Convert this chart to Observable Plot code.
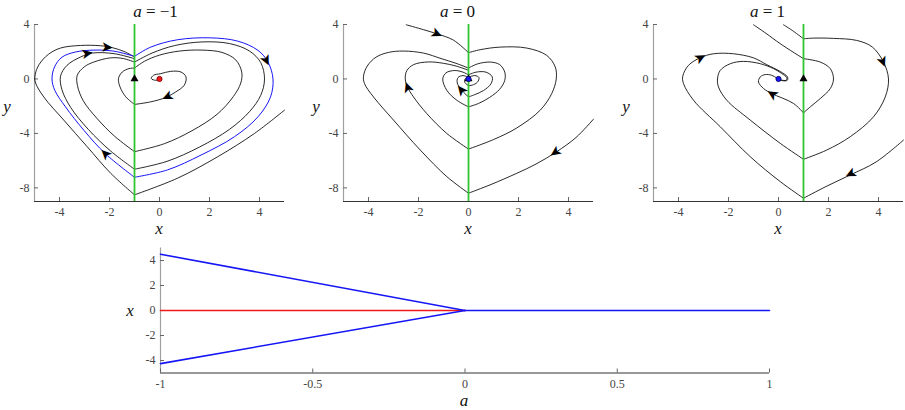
<!DOCTYPE html>
<html><head><meta charset="utf-8">
<script src="https://cdn.jsdelivr.net/npm/d3@7"></script>
<script src="https://cdn.jsdelivr.net/npm/@observablehq/plot@0.6"></script>
<style>
body{margin:0;background:#fff;}
#root{position:relative;width:905px;height:410px;overflow:hidden;}
.pnl{position:absolute;}
.lbl{position:absolute;font-family:"Liberation Serif",serif;font-size:17px;color:#111;transform:translate(-50%,-50%);white-space:nowrap;line-height:1;}
.lbl i{font-style:italic;}
</style></head><body><div id="root"></div>
<script>
// ---------- data ----------
const aValues = [-1, 0, 1];
const titles = ["−1", "0", "1"];
const xTicksTop = [-4, -2, 0, 2, 4];
const yTicksTop = [-8, -4, 0, 4];
const xDomTop = [-5, 5];
const yDomTop = [-9, 4];

// panel a = -1 : stable limit cycle (blue) and black trajectories (lobes split at x=a)
const p1Blue = [
  [[-1,1.66],[-0.35,2.34],[0.72,2.88],[2.03,3.02],[3.13,2.78],[3.94,2.10],[4.34,1.24],[4.54,0],[4.44,-1.32],[3.94,-2.78],[3.0,-4.24],[1.66,-5.59],[0.32,-6.68],[-1,-7.22]],
  [[-1,-7.22],[-2.16,-5.5],[-3.03,-3.76],[-3.76,-2.05],[-4.19,-0.83],[-4.3,0],[-4.2,0.88],[-3.9,1.6],[-3.36,1.98],[-2.62,2.12],[-1.82,2.04],[-1,1.66]]
];
const p1Black = [
  [[5.0,-2.29],[3.8,-4.0],[2.33,-5.71],[0.72,-7.29],[-1,-8.51]],
  [[-1,-8.51],[-1.95,-6.93],[-2.89,-4.98],[-3.83,-3.02],[-4.63,-1.32],[-4.97,-0.22],[-4.97,0.35],[-4.82,1.05],[-4.45,1.8],[-3.96,2.27],[-3.16,2.46],[-2.36,2.44],[-1.89,2.3],[-1.42,2.02],[-1,1.62]],
  [[0.05,0],[-0.15,-0.1],[-0.33,0.03],[-0.24,0.27],[0.05,0.39],[0.45,0.56],[0.86,0.51],[1.06,0.15],[0.99,-0.46],[0.65,-0.95],[0.25,-1.36],[-0.35,-1.68],[-1,-1.87]],
  [[-1,-1.87],[-1.35,-1.31],[-1.58,-0.58],[-1.64,0.03],[-1.49,0.51],[-1.22,0.76],[-1,0.8]],
  [[-1,0.8],[-0.6,1.3],[0,1.75],[0.8,2.05],[1.7,2.12],[2.5,1.95],[3.05,1.4],[3.29,0.5],[3.25,-0.3],[2.95,-1.3],[2.3,-2.6],[1.3,-3.8],[0.2,-4.75],[-1,-5.34]],
  [[-1,-5.34],[-1.8,-4.2],[-2.5,-2.9],[-3.05,-1.6],[-3.28,-0.5],[-3.29,0.27],[-3.0,0.9],[-2.63,1.24],[-1.96,1.55],[-1.45,1.5],[-1,1.24]],
  [[-1,1.24],[-0.3,1.9],[0.6,2.45],[1.7,2.72],[2.8,2.6],[3.6,2.05],[4.05,1.2],[4.2,0],[4.05,-1.2],[3.6,-2.4],[2.8,-3.7],[1.6,-5.0],[0.3,-6.05],[-1,-6.63]],
  [[-1,-6.63],[-1.95,-5.3],[-2.85,-3.7],[-3.55,-2.1],[-3.9,-0.8],[-3.96,0.2],[-3.7,1.0],[-3.16,1.61],[-2.69,1.9],[-1.82,1.86],[-1,1.49]]
];
const p1Arrows = [
  {x:-2.1,y:2.33,r:4},{x:-2.9,y:1.88,r:-10},{x:4.27,y:1.37,r:64},{x:-2.16,y:-5.5,r:-135},{x:0.32,y:-1.3,r:155}
];

// panel a = 0
const p2Black = [
  [[-2.49,3.98],[-1.8,3.62],[-1.27,3.32],[-0.6,2.85],[0,1.93]],
  [[0,1.93],[0.47,2.15],[1.27,2.34],[2.33,2.27],[3.13,1.73],[3.47,0.88],[3.51,0],[3.33,-1.07],[2.87,-2.29],[1.93,-3.6],[1.0,-4.45],[0,-5.15]],
  [[0,-5.15],[-0.87,-4.0],[-1.67,-2.54],[-2.2,-1.32],[-2.44,-0.59],[-2.53,0],[-2.47,0.6],[-2.2,1.05],[-1.6,1.25],[-1.0,1.15],[-0.5,0.95],[0,0.64]],
  [[5.0,-2.95],[4.3,-4.3],[3.53,-5.34],[2.7,-6.25],[1.93,-6.93],[0.9,-7.75],[0,-8.39]],
  [[0,-8.39],[-0.87,-7.17],[-1.93,-5.22],[-3.0,-3.02],[-3.8,-1.32],[-4.16,-0.34],[-4.2,0.2],[-4.05,0.95],[-3.7,1.6],[-3.2,1.95],[-2.6,2.05],[-1.8,1.9],[-1.1,1.5],[-0.5,1.15],[0,0.8]],
  [[0,0.8],[0.35,1.1],[0.87,1.24],[1.25,1.05],[1.45,0.5],[1.45,-0.1],[1.25,-0.75],[0.85,-1.35],[0.4,-1.8],[0,-2.05]],
  [[0,-2.05],[-0.47,-1.56],[-0.87,-0.83],[-1.03,0],[-0.9,0.45],[-0.55,0.62],[-0.22,0.5],[0,0.3]],
  [[0,0.3],[0.3,0.5],[0.7,0.5],[0.95,0.15],[0.9,-0.35],[0.6,-0.85],[0.25,-1.15],[0,-1.32]],
  [[0,-1.32],[-0.27,-0.83],[-0.45,-0.3],[-0.42,0.1],[-0.22,0.25],[0,0.12]],
  [[0,0.12],[0.25,0.25],[0.42,0.1],[0.35,-0.25],[0.15,-0.45],[0,-0.5]],
  [[0,-0.5],[-0.15,-0.25],[-0.13,0.02],[0,0]]
];
const p2Arrows = [
  {x:-1.27,y:3.32,r:24},{x:-2.44,y:-0.63,r:-110},{x:-0.29,y:-0.83,r:-129},{x:3.47,y:-5.39,r:145}
];

// panel a = 1
const p3Black = [
  [[-1,3.98],[-0.5,3.35],[0.07,2.59],[1,1.49]],
  [[1,1.49],[1.67,1.24],[2.07,0.76],[2.2,0],[2.07,-0.71],[1.67,-1.44],[1.27,-2.05],[1,-2.49]],
  [[1,-2.49],[0.6,-1.8],[-0.27,-1.07],[-0.6,-0.7],[-0.8,-0.22],[-0.73,0.15],[-0.53,0.32],[-0.27,0.27],[-0.07,0.07],[0,0]],
  [[0.2,3.98],[0.6,3.5],[1,2.95]],
  [[1,2.95],[1.4,3.0],[2.2,2.98],[3.13,2.83],[3.75,2.35],[4.2,1.24],[4.4,0],[4.27,-1.32],[3.8,-2.78],[2.87,-4.24],[1.93,-5.22],[1,-5.9]],
  [[1,-5.9],[0.07,-4.73],[-1.13,-3.02],[-2.07,-1.56],[-2.4,-0.59],[-2.44,0],[-2.33,0.63],[-1.93,1.12],[-1.4,1.29],[-0.73,1.12],[-0.2,0.76],[0.13,0.4],[0.33,0.1],[0.3,-0.1],[0.12,-0.08],[0,0]],
  [[5.0,-4.49],[3.9,-6.1],[2.87,-7.05],[1.9,-7.9],[1,-8.76]],
  [[1,-8.76],[0.07,-7.54],[-1.13,-5.71],[-2.33,-3.51],[-3.4,-1.56],[-3.8,-0.34],[-3.83,0.2],[-3.6,1.0],[-3.13,1.56],[-2.6,1.85],[-1.8,1.85],[-1.0,1.55],[-0.47,1.05],[0.07,0.55],[0.36,0.15],[0.35,-0.1],[0.15,-0.12],[0,0]]
];
const p3Arrows = [
  {x:-3.13,y:1.56,r:-28},{x:4.17,y:1.29,r:68},{x:-0.25,y:-1.12,r:-148},{x:2.89,y:-6.98,r:153}
];

// equilibria
const focusPt = [{x:0, y:0}];

// bifurcation diagram
const bifTicksX = [-1, -0.5, 0, 0.5, 1];
const bifTicksY = [-4, -2, 0, 2, 4];
const bifUpperA = [-1, 0], bifUpperX = [4.5, 0];
const bifLowerA = [-1, 0], bifLowerX = [-4.25, 0];
const bifUnstA = [-1, 0], bifUnstX = [0, 0];
const bifStabA = [0, 1], bifStabX = [0, 0];

// ---------- drawing ----------
const GREEN = "#2ec52e", BLUE = "#1515f5", RED = "#f01818";
const TICKFONT = "'Liberation Serif', 'Times New Roman', serif";
const root = document.getElementById("root");
const fmt = d => String(d);

function rows(segs) {
  const out = [];
  segs.forEach((s, i) => s.forEach(([x, y]) => out.push({x, y, id: i})));
  return out;
}
function axes(xT, yT, xDom, yDom, iw, ih) {
  return [
    Plot.ruleX([xDom[0]], {stroke: "#a0a0a0", strokeWidth: 1.2}),
    Plot.ruleY([yDom[0]], {stroke: "#333", strokeWidth: 1}),
    Plot.tickX(xT, {x: d => d, insetTop: ih - 4, stroke: "#666"}),
    Plot.tickY(yT, {y: d => d, insetRight: iw - 4, stroke: "#666"}),
    Plot.axisX(xT, {tickSize: 0, tickPadding: 6, label: null, tickFormat: fmt, color: "#444", fontFamily: TICKFONT, fontSize: 12}),
    Plot.axisY(yT, {tickSize: 0, tickPadding: 5, label: null, tickFormat: fmt, color: "#444", fontFamily: TICKFONT, fontSize: 12})
  ];
}
function place(el, left, top) {
  const d = document.createElement("div");
  d.className = "pnl"; d.style.left = left + "px"; d.style.top = top + "px";
  d.appendChild(el); root.appendChild(d);
}
function label(html, cx, cy, size) {
  const d = document.createElement("div");
  d.className = "lbl"; d.innerHTML = html;
  d.style.left = cx + "px"; d.style.top = cy + "px";
  if (size) d.style.fontSize = size + "px";
  root.appendChild(d);
}

const panelLeft = [0, 309, 619], panelW = [300, 300, 286], panelMR = [16, 16, 2];
const blacks = [p1Black, p2Black, p3Black];
const blues = [p1Blue, [], []];
const arrows = [p1Arrows, p2Arrows, p3Arrows];
const dotFill = [RED, BLUE, BLUE], dotStroke = ["#7a0000", "#000060", "#000060"];
const titleCx = [155.5, 457.5, 767.5];

aValues.forEach((a, k) => {
  const W = panelW[k], ML = 34, MR = panelMR[k], MT = 24, MB = 39, H = 240;
  const iw = W - ML - MR, ih = H - MT - MB;
  const svg = Plot.plot({
    width: W, height: H, marginLeft: ML, marginRight: MR, marginTop: MT, marginBottom: MB,
    style: {fontFamily: TICKFONT, fontSize: "12px", background: "transparent"},
    x: {domain: xDomTop, label: null},
    y: {domain: yDomTop, label: null},
    marks: [
      ...axes(xTicksTop, yTicksTop, xDomTop, yDomTop, iw, ih),
      Plot.line(rows(blacks[k]), {x: "x", y: "y", z: "id", curve: "catmull-rom", stroke: "#111", strokeWidth: 0.9}),
      Plot.line(rows(blues[k]), {x: "x", y: "y", z: "id", curve: "catmull-rom", stroke: BLUE, strokeWidth: 1}),
      Plot.ruleX([a], {stroke: GREEN, strokeWidth: 1.8}),
      Plot.text(arrows[k], {x: "x", y: "y", text: () => "➤", rotate: "r", fontSize: 15, fill: "#000", fontFamily: "DejaVu Sans"}),
      Plot.dot([{x: a, y: 0}], {x: "x", y: "y", symbol: "triangle", r: 3, fill: "#000", stroke: "none"}),
      Plot.dot(focusPt, {x: "x", y: "y", r: 2.6, fill: dotFill[k], stroke: dotStroke[k], strokeWidth: 0.8})
    ]
  });
  place(svg, panelLeft[k], 0);
  label(`<i>a</i> = ${titles[k]}`, titleCx[k], 11, 17);
  label(`<i>x</i>`, panelLeft[k] + ML + iw / 2, 228, 17);
  label(`<i>y</i>`, panelLeft[k] + 7, 106, 17);
});

// bifurcation
{
  const W = 905, H = 170, ML = 160, MR = 136, MT = 7.5, MB = 37.5;
  const iw = W - ML - MR, ih = H - MT - MB;
  const line = (A, X) => A.map((a, i) => ({a, x: X[i]}));
  const svg = Plot.plot({
    width: W, height: H, marginLeft: ML, marginRight: MR, marginTop: MT, marginBottom: MB,
    style: {fontFamily: TICKFONT, fontSize: "12px", background: "transparent"},
    x: {domain: [-1, 1], label: null},
    y: {domain: [-5, 5], label: null},
    marks: [
      ...axes(bifTicksX, bifTicksY, [-1, 1], [-5, 5], iw, ih),
      Plot.line(line(bifUnstA, bifUnstX), {x: "a", y: "x", stroke: RED, strokeWidth: 1.6}),
      Plot.line(line(bifUpperA, bifUpperX), {x: "a", y: "x", stroke: BLUE, strokeWidth: 1.6}),
      Plot.line(line(bifLowerA, bifLowerX), {x: "a", y: "x", stroke: BLUE, strokeWidth: 1.6}),
      Plot.line(line(bifStabA, bifStabX), {x: "a", y: "x", stroke: BLUE, strokeWidth: 1.6})
    ]
  });
  place(svg, 0, 240);
  label(`<i>x</i>`, 130, 310, 17);
  label(`<i>a</i>`, 464, 400, 17);
}
</script></body></html>
